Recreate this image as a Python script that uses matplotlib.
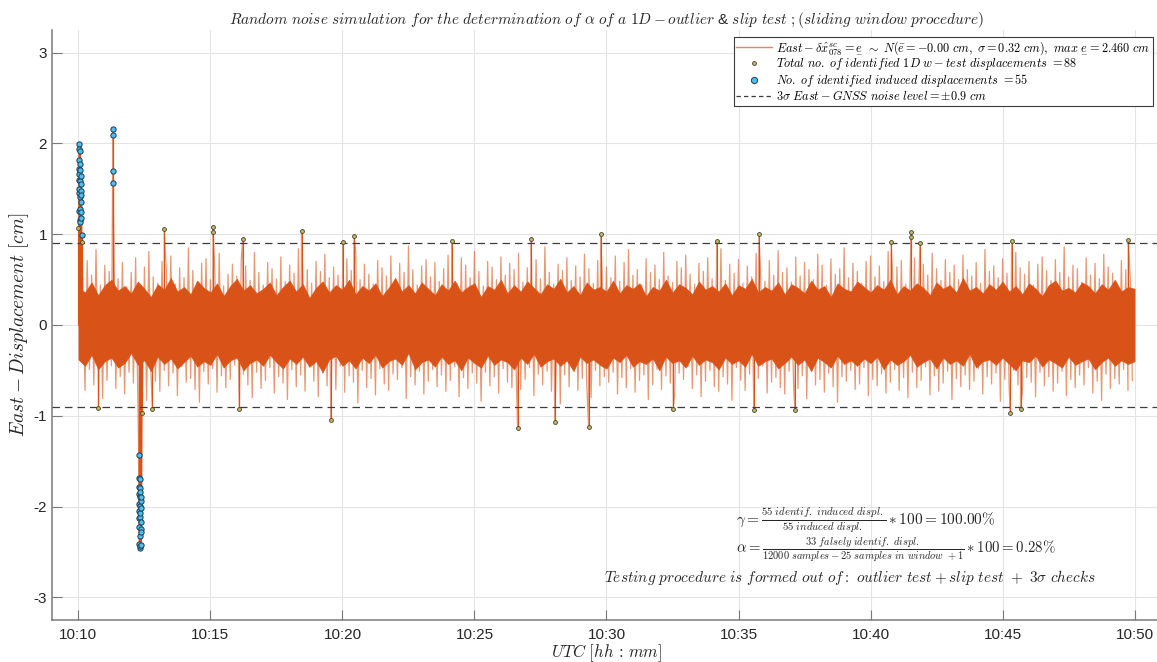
import numpy as np
import matplotlib
matplotlib.use("Agg")
import matplotlib.pyplot as plt
from matplotlib.lines import Line2D

plt.rcParams["mathtext.fontset"] = "cm"
plt.rcParams["font.family"] = ["Liberation Sans", "DejaVu Sans"]

# ---------------------------------------------------------------- data ----
# time axis: minutes after 10:00 UTC, record starts 10:10:00 and ends 10:50:00
record_start_min = 10.0
record_end_min = 50.0

x_ticks = [10, 15, 20, 25, 30, 35, 40, 45, 50]
x_tick_labels = ["10:10", "10:15", "10:20", "10:25", "10:30",
                 "10:35", "10:40", "10:45", "10:50"]
y_ticks = [-3, -2, -1, 0, 1, 2, 3]
y_tick_labels = ["-3", "-2", "-1", "0", "1", "2", "3"]

noise_level = 0.9  # 3 sigma band [cm]

# positive / negative noise excursions, one every 10 s (the negative ones
# lag the positive ones by 5 s)
upper_peaks = [
    0.62, 0.48, 0.71, 0.55, 0.83, 0.44, 0.66, 0.59, 0.77, 0.51, 0.69, 0.42, 0.58, 0.74, 0.49, 0.64, 0.81, 0.53, 0.46, 0.70,
    0.57, 0.76, 0.45, 0.63, 0.52, 0.85, 0.60, 0.47, 0.68, 0.73, 0.50, 0.61, 0.79, 0.43, 0.56, 0.67, 0.54, 0.72, 0.65, 0.49,
    0.80, 0.58, 0.44, 0.69, 0.62, 0.51, 0.75, 0.48, 0.66, 0.57, 0.84, 0.53, 0.61, 0.46, 0.70, 0.59, 0.78, 0.52, 0.64, 0.55,
    0.47, 0.73, 0.60, 0.82, 0.50, 0.67, 0.56, 0.45, 0.71, 0.63, 0.54, 0.76, 0.49, 0.68, 0.58, 0.87, 0.61, 0.44, 0.65, 0.72,
    0.53, 0.69, 0.48, 0.62, 0.77, 0.57, 0.46, 0.74, 0.66, 0.52, 0.81, 0.59, 0.43, 0.70, 0.64, 0.50, 0.75, 0.55, 0.68, 0.61,
    0.79, 0.47, 0.63, 0.56, 0.72, 0.51, 0.86, 0.58, 0.45, 0.67, 0.60, 0.74, 0.49, 0.65, 0.53, 0.78, 0.62, 0.46, 0.71, 0.57,
    0.64, 0.52, 0.76, 0.48, 0.69, 0.83, 0.55, 0.61, 0.44, 0.73, 0.58, 0.66, 0.50, 0.80, 0.54, 0.47, 0.70, 0.63, 0.77, 0.56,
    0.45, 0.68, 0.59, 0.74, 0.51, 0.62, 0.84, 0.49, 0.67, 0.57, 0.72, 0.46, 0.65, 0.53, 0.79, 0.60, 0.48, 0.71, 0.55, 0.82,
    0.58, 0.63, 0.47, 0.75, 0.54, 0.69, 0.61, 0.50, 0.78, 0.66, 0.44, 0.73, 0.56, 0.62, 0.85, 0.52, 0.68, 0.59, 0.46, 0.70,
    0.76, 0.53, 0.65, 0.48, 0.81, 0.57, 0.64, 0.71, 0.45, 0.60, 0.74, 0.51, 0.67, 0.55, 0.79, 0.62, 0.49, 0.72, 0.58, 0.66,
    0.50, 0.77, 0.61, 0.54, 0.69, 0.46, 0.83, 0.59, 0.65, 0.52, 0.73, 0.57, 0.48, 0.80, 0.63, 0.56, 0.70, 0.44, 0.67, 0.75,
    0.60, 0.49, 0.72, 0.58, 0.86, 0.53, 0.66, 0.62, 0.47, 0.74, 0.55, 0.68, 0.51, 0.78, 0.64, 0.57, 0.45, 0.71, 0.61, 0.52,
]
lower_peaks = [
    -0.58, -0.72, -0.49, -0.66, -0.54, -0.81, -0.61, -0.45, -0.70, -0.57, -0.76, -0.52, -0.64, -0.47, -0.68, -0.83, -0.55, -0.62, -0.73, -0.50,
    -0.67, -0.53, -0.78, -0.46, -0.63, -0.59, -0.71, -0.85, -0.51, -0.65, -0.48, -0.74, -0.56, -0.69, -0.60, -0.44, -0.77, -0.54, -0.66, -0.80,
    -0.52, -0.70, -0.61, -0.47, -0.75, -0.57, -0.64, -0.82, -0.49, -0.68, -0.55, -0.73, -0.46, -0.62, -0.79, -0.53, -0.67, -0.58, -0.71, -0.45,
    -0.74, -0.56, -0.63, -0.86, -0.50, -0.69, -0.59, -0.77, -0.48, -0.65, -0.72, -0.54, -0.60, -0.47, -0.81, -0.57, -0.66, -0.51, -0.76, -0.62,
    -0.49, -0.68, -0.55, -0.73, -0.61, -0.46, -0.79, -0.58, -0.70, -0.53, -0.64, -0.84, -0.52, -0.67, -0.57, -0.75, -0.48, -0.63, -0.69, -0.56,
    -0.71, -0.60, -0.47, -0.78, -0.54, -0.66, -0.51, -0.73, -0.62, -0.87, -0.55, -0.68, -0.45, -0.72, -0.59, -0.64, -0.80, -0.50, -0.67, -0.57,
    -0.63, -0.52, -0.76, -0.58, -0.69, -0.48, -0.74, -0.61, -0.55, -0.82, -0.66, -0.49, -0.71, -0.56, -0.64, -0.77, -0.53, -0.60, -0.46, -0.70,
    -0.55, -0.79, -0.62, -0.50, -0.68, -0.73, -0.57, -0.65, -0.83, -0.47, -0.61, -0.72, -0.54, -0.67, -0.59, -0.45, -0.75, -0.63, -0.58, -0.69,
    -0.76, -0.51, -0.64, -0.70, -0.56, -0.81, -0.48, -0.66, -0.60, -0.74, -0.53, -0.68, -0.85, -0.57, -0.62, -0.50, -0.71, -0.65, -0.47, -0.78,
    -0.60, -0.67, -0.54, -0.75, -0.63, -0.49, -0.72, -0.58, -0.80, -0.52, -0.69, -0.61, -0.46, -0.77, -0.56, -0.73, -0.64, -0.51, -0.82, -0.59,
    -0.68, -0.55, -0.71, -0.62, -0.48, -0.76, -0.57, -0.65, -0.53, -0.84, -0.60, -0.70, -0.50, -0.66, -0.74, -0.58, -0.63, -0.79, -0.52, -0.67,
    -0.57, -0.73, -0.64, -0.51, -0.78, -0.60, -0.69, -0.55, -0.66, -0.47, -0.75, -0.62, -0.83, -0.54, -0.70, -0.59, -0.65, -0.49, -0.72, -0.61,
]

# dense part of the noise band, one value every 15 s (10:10:00 ... 10:50:00)
core_top = [
    0.41, 0.36, 0.47, 0.33, 0.44, 0.50, 0.38, 0.43, 0.35, 0.48, 0.40, 0.31, 0.45, 0.39, 0.52, 0.37, 0.42, 0.34, 0.49, 0.41,
    0.36, 0.46, 0.32, 0.43, 0.51, 0.38, 0.44, 0.35, 0.40, 0.47, 0.33, 0.42, 0.49, 0.37, 0.45, 0.30, 0.41, 0.48, 0.36, 0.44,
    0.39, 0.50, 0.34, 0.43, 0.38, 0.46, 0.32, 0.41, 0.52, 0.37, 0.44, 0.35, 0.47, 0.40, 0.33, 0.45, 0.38, 0.49, 0.36, 0.42,
    0.46, 0.31, 0.43, 0.39, 0.50, 0.35, 0.44, 0.37, 0.48, 0.41, 0.34, 0.45, 0.40, 0.51, 0.36, 0.43, 0.33, 0.47, 0.39, 0.42,
    0.37, 0.49, 0.35, 0.44, 0.40, 0.46, 0.32, 0.42, 0.38, 0.50, 0.36, 0.45, 0.41, 0.34, 0.48, 0.39, 0.43, 0.37, 0.46, 0.33,
    0.44, 0.40, 0.51, 0.36, 0.42, 0.38, 0.47, 0.34, 0.45, 0.41, 0.35, 0.49, 0.39, 0.43, 0.31, 0.46, 0.40, 0.37, 0.48, 0.42,
    0.36, 0.44, 0.39, 0.50, 0.34, 0.43, 0.38, 0.46, 0.41, 0.33, 0.47, 0.40, 0.44, 0.36, 0.52, 0.38, 0.42, 0.35, 0.45, 0.39,
    0.48, 0.37, 0.43, 0.34, 0.46, 0.40, 0.32, 0.44, 0.49, 0.38, 0.41, 0.36, 0.47, 0.43, 0.35, 0.45, 0.39, 0.50, 0.37, 0.42,
    0.40,
]
core_bottom = [
    -0.38, -0.45, -0.33, -0.49, -0.40, -0.36, -0.47, -0.42, -0.31, -0.44, -0.39, -0.51, -0.35, -0.43, -0.37, -0.48, -0.41, -0.34, -0.46, -0.40,
    -0.44, -0.32, -0.47, -0.39, -0.36, -0.50, -0.42, -0.38, -0.45, -0.33, -0.41, -0.48, -0.37, -0.43, -0.35, -0.46, -0.40, -0.52, -0.38, -0.34,
    -0.45, -0.39, -0.48, -0.36, -0.42, -0.33, -0.47, -0.40, -0.37, -0.44, -0.31, -0.49, -0.41, -0.38, -0.46, -0.35, -0.43, -0.39, -0.50, -0.36,
    -0.42, -0.47, -0.34, -0.44, -0.38, -0.41, -0.49, -0.36, -0.43, -0.32, -0.46, -0.40, -0.37, -0.45, -0.39, -0.51, -0.35, -0.42, -0.38, -0.44,
    -0.48, -0.36, -0.41, -0.33, -0.46, -0.40, -0.43, -0.37, -0.50, -0.35, -0.42, -0.39, -0.47, -0.34, -0.44, -0.38, -0.41, -0.49, -0.36, -0.43,
    -0.39, -0.46, -0.32, -0.45, -0.40, -0.37, -0.48, -0.42, -0.35, -0.44, -0.38, -0.51, -0.36, -0.41, -0.47, -0.34, -0.43, -0.39, -0.45, -0.37,
    -0.42, -0.35, -0.49, -0.38, -0.44, -0.40, -0.33, -0.46, -0.41, -0.37, -0.48, -0.36, -0.43, -0.39, -0.45, -0.32, -0.47, -0.40, -0.38, -0.44,
    -0.36, -0.43, -0.50, -0.39, -0.41, -0.34, -0.46, -0.38, -0.42, -0.47, -0.35, -0.44, -0.40, -0.37, -0.49, -0.41, -0.36, -0.45, -0.39, -0.43,
    -0.40,
]

# falsely identified displacements: seconds after 10:10:00, value [cm]
false_sec = [0.2, 7.6, 45.6, 145.2, 168.0, 195.0, 306.0, 306.2, 366.0, 373.2, 507.0,
             573.6, 601.2, 626.4, 849.0, 997.8, 1029.0, 1082.4, 1159.2, 1186.8, 1351.8,
             1450.2, 1534.8, 1546.2, 1627.8, 1846.8, 1891.8, 1892.0, 1912.2, 2117.4,
             2120.4, 2140.8, 2385.6]
false_val = [1.07, 0.91, -0.91, -0.97, -0.93, 1.06, 1.08, 1.02, -0.93, 0.95, 1.04,
             -1.05, 0.91, 0.98, 0.93, -1.13, 0.95, -1.07, -1.12, 1.00, -0.92,
             0.93, -0.94, 1.00, -0.94, 0.91, 1.02, 0.97, 0.90, -0.97,
             0.93, -0.92, 0.94]

# induced displacements (all identified): seconds after 10:10:00, value [cm]
induced_sec = [0.4, 0.6, 0.8, 1.0, 1.4, 1.6, 1.8, 2.2, 2.4, 2.6, 3.0, 3.2, 3.4, 3.8, 4.0,
               4.2, 4.6, 4.8, 5.0, 5.4, 5.6, 6.0, 6.4, 6.8, 7.2,
               77.6, 77.8, 78.0, 78.2,
               137.0, 137.2, 137.4, 137.6, 137.8, 138.0, 138.4, 138.6, 138.8, 139.0, 139.2,
               139.4, 139.8, 140.0, 140.2, 140.4, 140.6, 140.8, 141.0, 141.4, 141.6, 141.8,
               142.0, 142.2, 142.4, 142.6]
induced_val = [1.99, 1.60, 1.82, 1.45, 1.72, 1.26, 1.94, 1.50, 1.66, 1.16, 1.77, 1.41, 1.92, 1.28, 1.59,
               1.71, 1.14, 1.48, 1.64, 1.25, 1.55, 1.43, 1.18, 1.35, 0.99,
               1.56, 2.09, 2.16, 1.70,
               -1.43, -1.97, -1.78, -2.22, -1.69, -2.05, -2.41, -1.86, -2.13, -1.70, -2.33,
               -1.90, -2.46, -1.99, -2.11, -1.80, -2.44, -2.07, -1.84, -2.25, -2.42, -1.94,
               -2.17, -1.89, -2.28, -2.02]

# ------------------------------------------------------------- styling ----
ORANGE = "#D95319"
DOT_FACE = "#BDB86A"
DOT_EDGE = "#45442a"
CYAN = "#4DBEEE"
CYAN_EDGE = "#1F3D52"
AXIS_GREY = "#7a7a7a"
TEXT = "#262626"
DASH = "#3c3c3c"

# ------------------------------------------------------ assemble series ----
n_up = len(upper_peaks)
t_up = record_start_min + np.arange(n_up) * (1 / 6)
t_lo = t_up + 1 / 12
t_false = record_start_min + np.asarray(false_sec) / 60
t_ind = record_start_min + np.asarray(induced_sec) / 60

noise_t = np.concatenate([t_up, t_lo])
noise_v = np.concatenate([upper_peaks, lower_peaks])
# the induced episodes are carried by the induced samples themselves
busy = np.zeros(noise_t.shape, bool)
for a, b in [(0.0, 8.0), (76.0, 80.0), (135.0, 144.0)]:
    busy |= (noise_t >= record_start_min + a / 60) & (noise_t <= record_start_min + b / 60)
noise_t, noise_v = noise_t[~busy], noise_v[~busy]

all_t = np.concatenate([noise_t, t_false, t_ind])
all_v = np.concatenate([noise_v, false_val, induced_val])
order = np.argsort(all_t, kind="stable")
all_t, all_v = all_t[order], all_v[order]

core_t = np.linspace(record_start_min, record_end_min, len(core_top))

det_t = np.concatenate([t_false, t_ind])
det_v = np.concatenate([false_val, induced_val])

# ---------------------------------------------------------------- plot ----
fig = plt.figure(figsize=(11.57, 6.62), dpi=100)
ax = fig.add_axes([52 / 1157, 1 - 620 / 662, 1109 / 1157, 590 / 662])

ax.fill_between(core_t, core_bottom, core_top, color=ORANGE, lw=0.4,
                edgecolor=ORANGE, zorder=2)
ax.plot(all_t, all_v, color=ORANGE, alpha=0.6, lw=0.9, zorder=3)
ax.vlines(det_t, 0, det_v, color=ORANGE, lw=0.8, zorder=3)

ax.axhline(noise_level, color=DASH, lw=0.9, ls=(0, (6, 4)), zorder=4)
ax.axhline(-noise_level, color=DASH, lw=0.9, ls=(0, (6, 4)), zorder=4)

ax.plot(det_t, det_v, ls="none", marker="o", ms=2.8, mfc=DOT_FACE,
        mec=DOT_EDGE, mew=0.6, zorder=5)
ax.plot(t_ind, induced_val, ls="none", marker="o", ms=3.8, mfc=CYAN,
        mec=CYAN_EDGE, mew=0.7, zorder=6)

ax.set_xlim(9, 51)
ax.set_ylim(-3.25, 3.25)
ax.set_xticks(x_ticks)
ax.set_xticklabels(x_tick_labels)
ax.set_yticks(y_ticks)
ax.set_yticklabels(y_tick_labels)
ax.grid(True, color="#e4e4e4", lw=0.8, zorder=0)
ax.set_axisbelow(True)
for side in ("top", "right"):
    ax.spines[side].set_visible(False)
for side in ("left", "bottom"):
    ax.spines[side].set_color(AXIS_GREY)
    ax.spines[side].set_linewidth(1.1)
ax.tick_params(direction="in", length=7, width=0.8, color=AXIS_GREY,
               labelcolor=TEXT, labelsize=11)
ax.tick_params(axis="x", pad=6)

ax.set_title(r"$Random\ noise\ simulation\ for\ the\ determination\ of\ \alpha\ of\ a\ 1D-outlier$"
             r" & $slip\ test\ ;(sliding\ window\ procedure)$",
             fontsize=11, color=TEXT, pad=4)
ax.set_xlabel(r"$UTC\ [hh\,:\,mm]$", fontsize=12, color=TEXT, labelpad=0)
ax.set_ylabel(r"$East-Displacement\ [cm]$", fontsize=14, color=TEXT, labelpad=2)

handles = [
    Line2D([], [], color=ORANGE, alpha=0.7, lw=1.0),
    Line2D([], [], ls="none", marker="o", ms=2.8, mfc=DOT_FACE, mec=DOT_EDGE, mew=0.6),
    Line2D([], [], ls="none", marker="o", ms=4.5, mfc=CYAN, mec=CYAN_EDGE, mew=0.7),
    Line2D([], [], color=DASH, lw=0.9, ls=(0, (3.5, 2.5))),
]
labels = [
    r"$East-\delta\hat{x}^{sc}_{078}=\underset{-}{e}\ \sim\ N(\bar{e}=-0.00\ cm,\ \sigma=0.32\ cm),\ max\ \underset{-}{e}=2.460\ cm$",
    r"$Total\ no.\ of\ identified\ 1D\ w-test\ displacements\ =88$",
    r"$No.\ of\ identified\ induced\ displacements\ =55$",
    r"$3\sigma\ East-GNSS\ noise\ level=\pm0.9\ cm$",
]
leg = ax.legend(handles, labels, loc="upper right", bbox_to_anchor=(0.993, 0.988),
                borderaxespad=0, fontsize=8.8, frameon=True, fancybox=False,
                framealpha=1, edgecolor=DASH, handlelength=2.9,
                handletextpad=0.4, labelspacing=0.0, borderpad=0.2)
leg.get_frame().set_linewidth(0.8)
leg.set_zorder(10)

ax.text(34.92, -2.16,
        r"$\gamma=\frac{55\ identif.\ induced\ displ.}{55\ induced\ displ.}*100=100.00\%$",
        fontsize=11, color=TEXT, ha="left", va="center")
ax.text(34.92, -2.47,
        r"$\alpha=\frac{33\ falsely\ identif.\ displ.}{12000\ samples-25\ samples\ in\ window\ +1}*100=0.28\%$",
        fontsize=10.7, color=TEXT, ha="left", va="center")
ax.text(29.9, -2.78,
        r"$Testing\ procedure\ is\ formed\ out\ of:\ outlier\ test+slip\ test\ +\ 3\sigma\ checks$",
        fontsize=11, color=TEXT, ha="left", va="center")

fig.savefig("out.png", dpi=100)
